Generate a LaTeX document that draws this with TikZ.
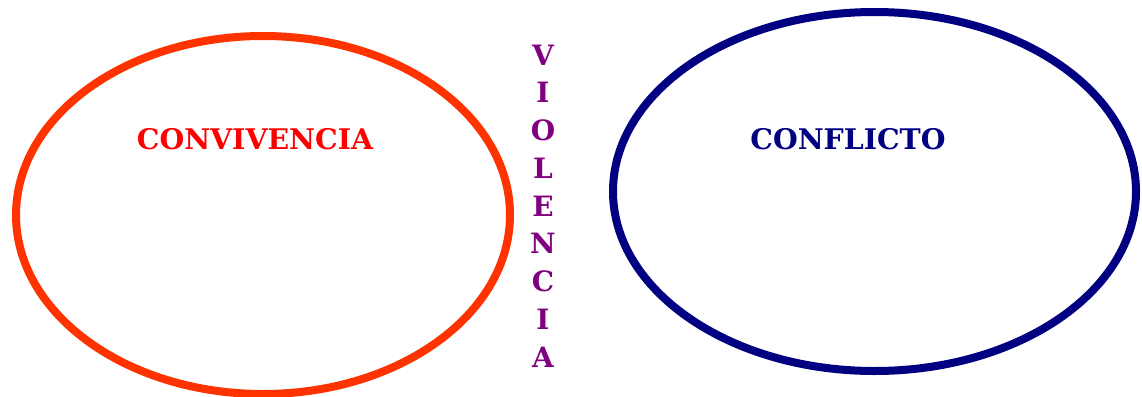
\documentclass[tikz,border=0pt]{standalone}
\usepackage{fontspec}
\setmainfont{DejaVu Serif}
\usetikzlibrary{shapes.geometric}
\definecolor{ored}{HTML}{FF3300}
\definecolor{tred}{HTML}{FF0000}
\definecolor{navy}{HTML}{000080}
\definecolor{vpurple}{HTML}{800080}
\tikzset{
  ring/.style={draw, line width=8pt, ellipse, inner sep=0pt},
  title/.style={font=\bfseries\fontsize{28.4}{28.4}\selectfont, inner sep=0pt},
  vletter/.style={font=\bfseries\fontsize{28}{28}\selectfont, text=vpurple, inner sep=0pt, anchor=center}
}
\begin{document}
\begin{tikzpicture}[x=1pt,y=-1pt]
\useasboundingbox (0,0) rectangle (1142,396);
\node[ring, draw=ored, minimum width=494pt, minimum height=358pt] (conv) at (263,215) {};
\node[ring, draw=navy, minimum width=523pt, minimum height=359pt] (conf) at (874.5,191.5) {};
\node[title, text=tred] (tconv) at (255,139) {CONVIVENCIA};
\node[title, text=navy] (tconf) at (848,139) {CONFLICTO};
\foreach \l [count=\i from 0] in {V,I,O,L,E,N,C,I,A} {
  \node[vletter] (v\i) at (543,{55+37.75*\i}) {\l};
}
\end{tikzpicture}
\end{document}
